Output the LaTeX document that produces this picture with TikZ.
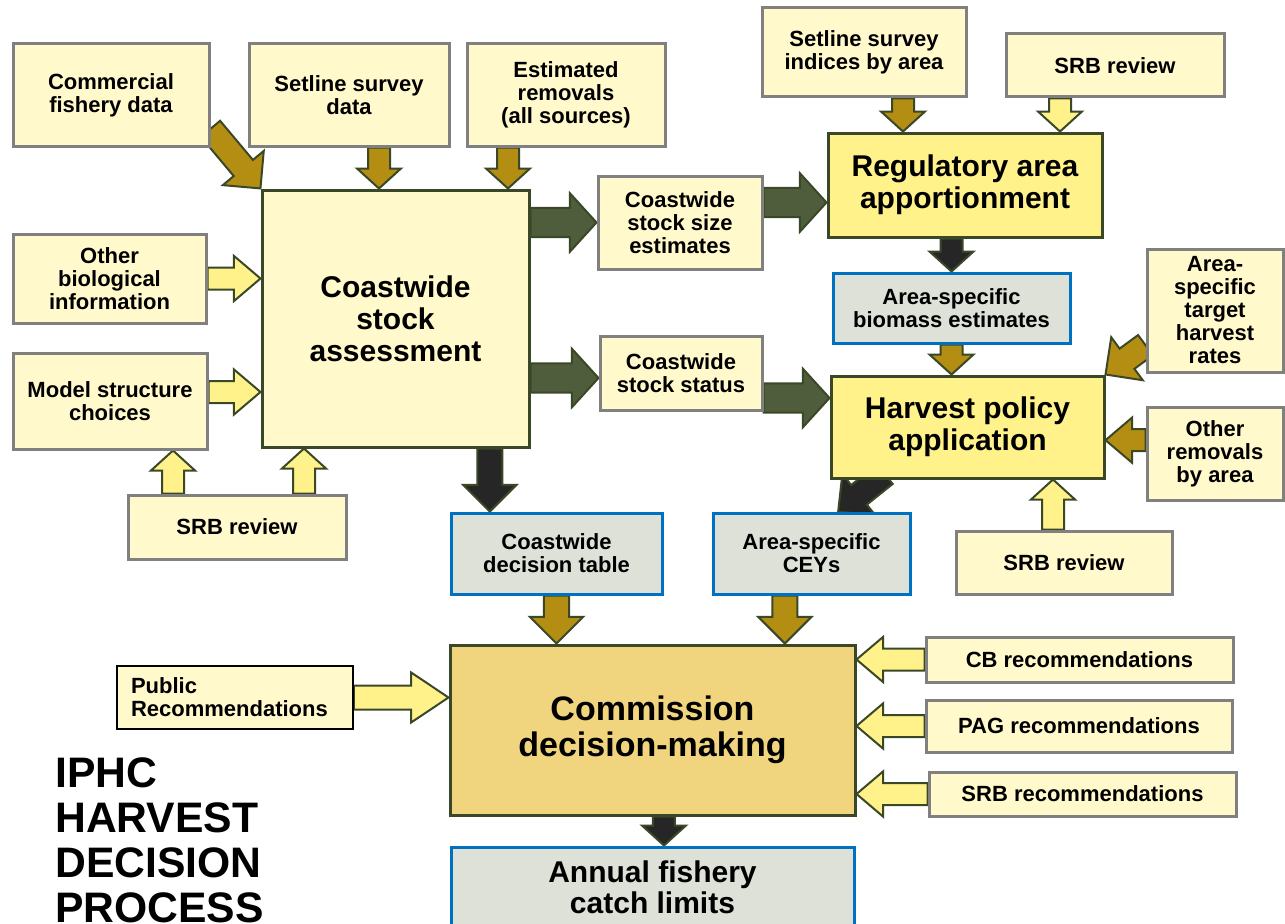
\documentclass[tikz,border=0pt]{standalone}
\usepackage{fontspec}
\setmainfont{Liberation Sans}
\usetikzlibrary{calc,backgrounds}
\definecolor{paleyellow}{HTML}{FFF9CC}
\definecolor{brightyellow}{HTML}{FFF28A}
\definecolor{tanfill}{HTML}{F0D47E}
\definecolor{gold}{HTML}{B48E12}
\definecolor{olive}{HTML}{4F5D3D}
\definecolor{darkline}{HTML}{3A4828}
\definecolor{boxgray}{HTML}{808080}
\definecolor{bluegray}{HTML}{DDE1D8}
\definecolor{blueline}{HTML}{0070C0}
\definecolor{nearblack}{HTML}{262626}
\tikzset{
  box/.style={draw=boxgray, line width=2.25pt, fill=paleyellow, align=center, inner sep=1pt,
    font=\fontsize{16.5}{17.25}\selectfont\bfseries},
  keybox/.style={box, draw=darkline},
  outbox/.style={box, draw=blueline, fill=bluegray},
  big/.style={font=\fontsize{22.5}{24}\selectfont\bfseries},
  std/.code={\def\ashaft{8.25pt}\def\ahead{16.5pt}\def\alen{15pt}},
  longhead/.code={\def\ashaft{8.25pt}\def\ahead{17pt}\def\alen{20pt}},
  wide/.code={\def\ashaft{9.4pt}\def\ahead{20pt}\def\alen{20pt}},
  fat/.code={\def\ashaft{11pt}\def\ahead{22pt}\def\alen{20pt}},
  pubhead/.code={\def\ashaft{9pt}\def\ahead{18.75pt}\def\alen{28pt}},
  barrow/.style={std, draw=darkline, line width=1.5pt, line join=miter},
}
\newcommand{\fatarrow}[4][]{%
  \draw[barrow, fill=#4, #1] let \p1=($(#3)-(#2)$), \n1={atan2(\y1,\x1)}, \n2={veclen(\x1,\y1)} in
    [shift={(#2)}, rotate={\n1}]
    (0pt,-\ashaft) -- ({\n2-\alen},-\ashaft) -- ({\n2-\alen},-\ahead) -- ({\n2+0pt},0pt)
    -- ({\n2-\alen},\ahead) -- ({\n2-\alen},\ashaft) -- (0pt,\ashaft) -- cycle;
}
\begin{document}
\begin{tikzpicture}[x=0.75pt, y=-0.75pt]
\useasboundingbox (0,0) rectangle (1285,924);
\node[box, minimum width=147pt, minimum height=76.5pt] (cfd) at (111,95) {Commercial\\fishery data};
\node[box, minimum width=150pt, minimum height=76.5pt] (ssd) at (349,95) {Setline survey\\data};
\node[box, minimum width=148.5pt, minimum height=76.5pt] (er) at (566,95) {Estimated\\removals\\(all sources)};
\node[keybox, big, minimum width=200.25pt, minimum height=192.75pt] (assess) at (395.5,318.5) {Coastwide\\stock\\assessment};
\node[box, minimum width=144.75pt, minimum height=66.75pt] (obi) at (109.5,278.5) {Other\\biological\\information};
\node[box, minimum width=145.5pt, minimum height=72pt] (msc) at (110,401) {Model structure\\choices};
\node[box, minimum width=163.5pt, minimum height=48pt] (srbl) at (237,527) {SRB review};
\node[box, minimum width=123pt, minimum height=69.75pt] (sse) at (680,222.5) {Coastwide\\stock size\\estimates};
\node[box, minimum width=121.5pt, minimum height=55.5pt] (css) at (681,373) {Coastwide\\stock status};
\node[box, minimum width=153pt, minimum height=66.75pt] (ssi) at (864,52.5) {Setline survey\\indices by area};
\node[box, minimum width=163.5pt, minimum height=47.25pt] (srbt) at (1115,65.5) {SRB review};
\node[keybox, big, fill=brightyellow, minimum width=205.5pt, minimum height=78pt] (raa) at (965,185) {Regulatory area\\apportionment};
\node[outbox, minimum width=177.75pt, minimum height=52.5pt] (abe) at (951.5,308) {Area-specific\\biomass estimates};
\node[box, minimum width=102pt, minimum height=92.25pt] (athr) at (1215,310.5) {Area-\\specific\\target\\harvest\\rates};
\node[keybox, big, fill=brightyellow, minimum width=204.75pt, minimum height=76.5pt] (hpa) at (967.5,427) {Harvest policy\\application};
\node[box, minimum width=102pt, minimum height=69.75pt] (ora) at (1215,453.5) {Other\\removals\\by area};
\node[box, minimum width=162pt, minimum height=47.25pt] (srbr) at (1064,562.5) {SRB review};
\node[outbox, minimum width=158.25pt, minimum height=60.75pt] (cdt) at (556.5,553.5) {Coastwide\\decision table};
\node[outbox, minimum width=147.75pt, minimum height=60.75pt] (cey) at (811.5,553.5) {Area-specific\\CEYs};
\node[keybox, fill=tanfill, font=\fontsize{25.5}{27}\selectfont\bfseries, minimum width=303.75pt, minimum height=127.5pt] (comm) at (652.5,730) {Commission\\decision-making};
\node[box, draw=black, line width=1.2pt, align=left, minimum width=177pt, minimum height=47.25pt, text width=156pt] (pub) at (235,697.5) {Public\\Recommendations};
\node[box, minimum width=230.25pt, minimum height=33.75pt] (cb) at (1079.5,659.5) {CB recommendations};
\node[box, minimum width=229.5pt, minimum height=39pt] (pag) at (1079,726) {PAG recommendations};
\node[box, minimum width=230.25pt, minimum height=33pt] (srbrec) at (1082.5,794) {SRB recommendations};
\node[outbox, big, font=\fontsize{22.5}{23.25}\selectfont\bfseries, minimum width=302.25pt, minimum height=60pt] (acl) at (652.5,887) {Annual fishery\\catch limits};
\node[anchor=north west, align=left, inner sep=0pt, font=\fontsize{32}{33.75}\selectfont\bfseries] (title) at (55,757) {IPHC\\HARVEST\\DECISION\\PROCESS};
\coordinate (cfdA) at ([yshift=14pt]cfd.south east);
\coordinate (ssdA) at ([xshift=22.5pt]ssd.south);
\coordinate (erA) at ([xshift=-43.5pt]er.south);
\coordinate (mscA) at ([yshift=6.75pt]msc.east);
\coordinate (srblA) at ([xshift=-48pt]srbl.north);
\coordinate (srblB) at ([xshift=50.25pt]srbl.north);
\coordinate (sseA) at ([yshift=15pt]sse.east);
\coordinate (cssA) at ([yshift=-3.75pt]css.west);
\coordinate (cssB) at ([yshift=-18.75pt]css.east);
\coordinate (ssiA) at ([xshift=29.25pt]ssi.south);
\coordinate (srbtA) at ([xshift=-41.25pt]srbt.south);
\coordinate (athrA) at ([yshift=-26pt]athr.west);
\coordinate (oraA) at ([yshift=10pt]ora.west);
\coordinate (srbrA) at ([xshift=-8.25pt]srbr.north);
\coordinate (hpaA) at ([xshift=-62pt,yshift=4pt]hpa.south);
\coordinate (ceyA) at ([xshift=20pt]cey.north);
\coordinate (cdtA) at ([xshift=-50pt]cdt.north);
\coordinate (ceyB) at ([xshift=-20pt]cey.south);
\coordinate (commA) at ([xshift=8.6pt]comm.south);
\begin{scope}[on background layer]
\fatarrow[wide]{cfdA}{assess.north west}{gold}
\fatarrow{ssdA}{ssdA |- assess.north}{gold}
\fatarrow{erA}{erA |- assess.north}{gold}
\fatarrow[longhead]{obi.east}{obi.east -| assess.west}{brightyellow}
\fatarrow[longhead]{mscA}{mscA -| assess.west}{brightyellow}
\fatarrow{srblA}{srblA |- msc.south}{brightyellow}
\fatarrow{srblB}{srblB |- assess.south}{brightyellow}
\fatarrow[fat]{sse.west -| assess.east}{sse.west}{olive}
\fatarrow[fat]{sseA}{sseA -| raa.west}{olive}
\fatarrow[fat]{cssA -| assess.east}{cssA}{olive}
\fatarrow[fat]{cssB}{cssB -| hpa.west}{olive}
\fatarrow{ssiA}{ssiA |- raa.north}{gold}
\fatarrow{srbtA}{srbtA |- raa.north}{brightyellow}
\fatarrow{abe.north |- raa.south}{abe.north}{nearblack}
\fatarrow{abe.south}{abe.south |- hpa.north}{gold}
\fatarrow[wide]{athrA}{hpa.north east}{gold}
\fatarrow[longhead]{oraA}{oraA -| hpa.east}{gold}
\fatarrow{srbrA}{srbrA |- hpa.south}{brightyellow}
\fatarrow[wide]{hpaA}{ceyA}{nearblack}
\fatarrow[wide]{cdtA |- assess.south}{cdtA}{nearblack}
\fatarrow[wide]{cdt.south}{cdt.south |- comm.north}{gold}
\fatarrow[wide]{ceyB}{ceyB |- comm.north}{gold}
\fatarrow[pubhead]{pub.east}{pub.east -| comm.west}{brightyellow}
\fatarrow[longhead]{cb.west}{cb.west -| comm.east}{brightyellow}
\fatarrow[longhead]{pag.west}{pag.west -| comm.east}{brightyellow}
\fatarrow[longhead]{srbrec.west}{srbrec.west -| comm.east}{brightyellow}
\fatarrow{commA}{commA |- acl.north}{nearblack}
\end{scope}
\end{tikzpicture}
\end{document}
